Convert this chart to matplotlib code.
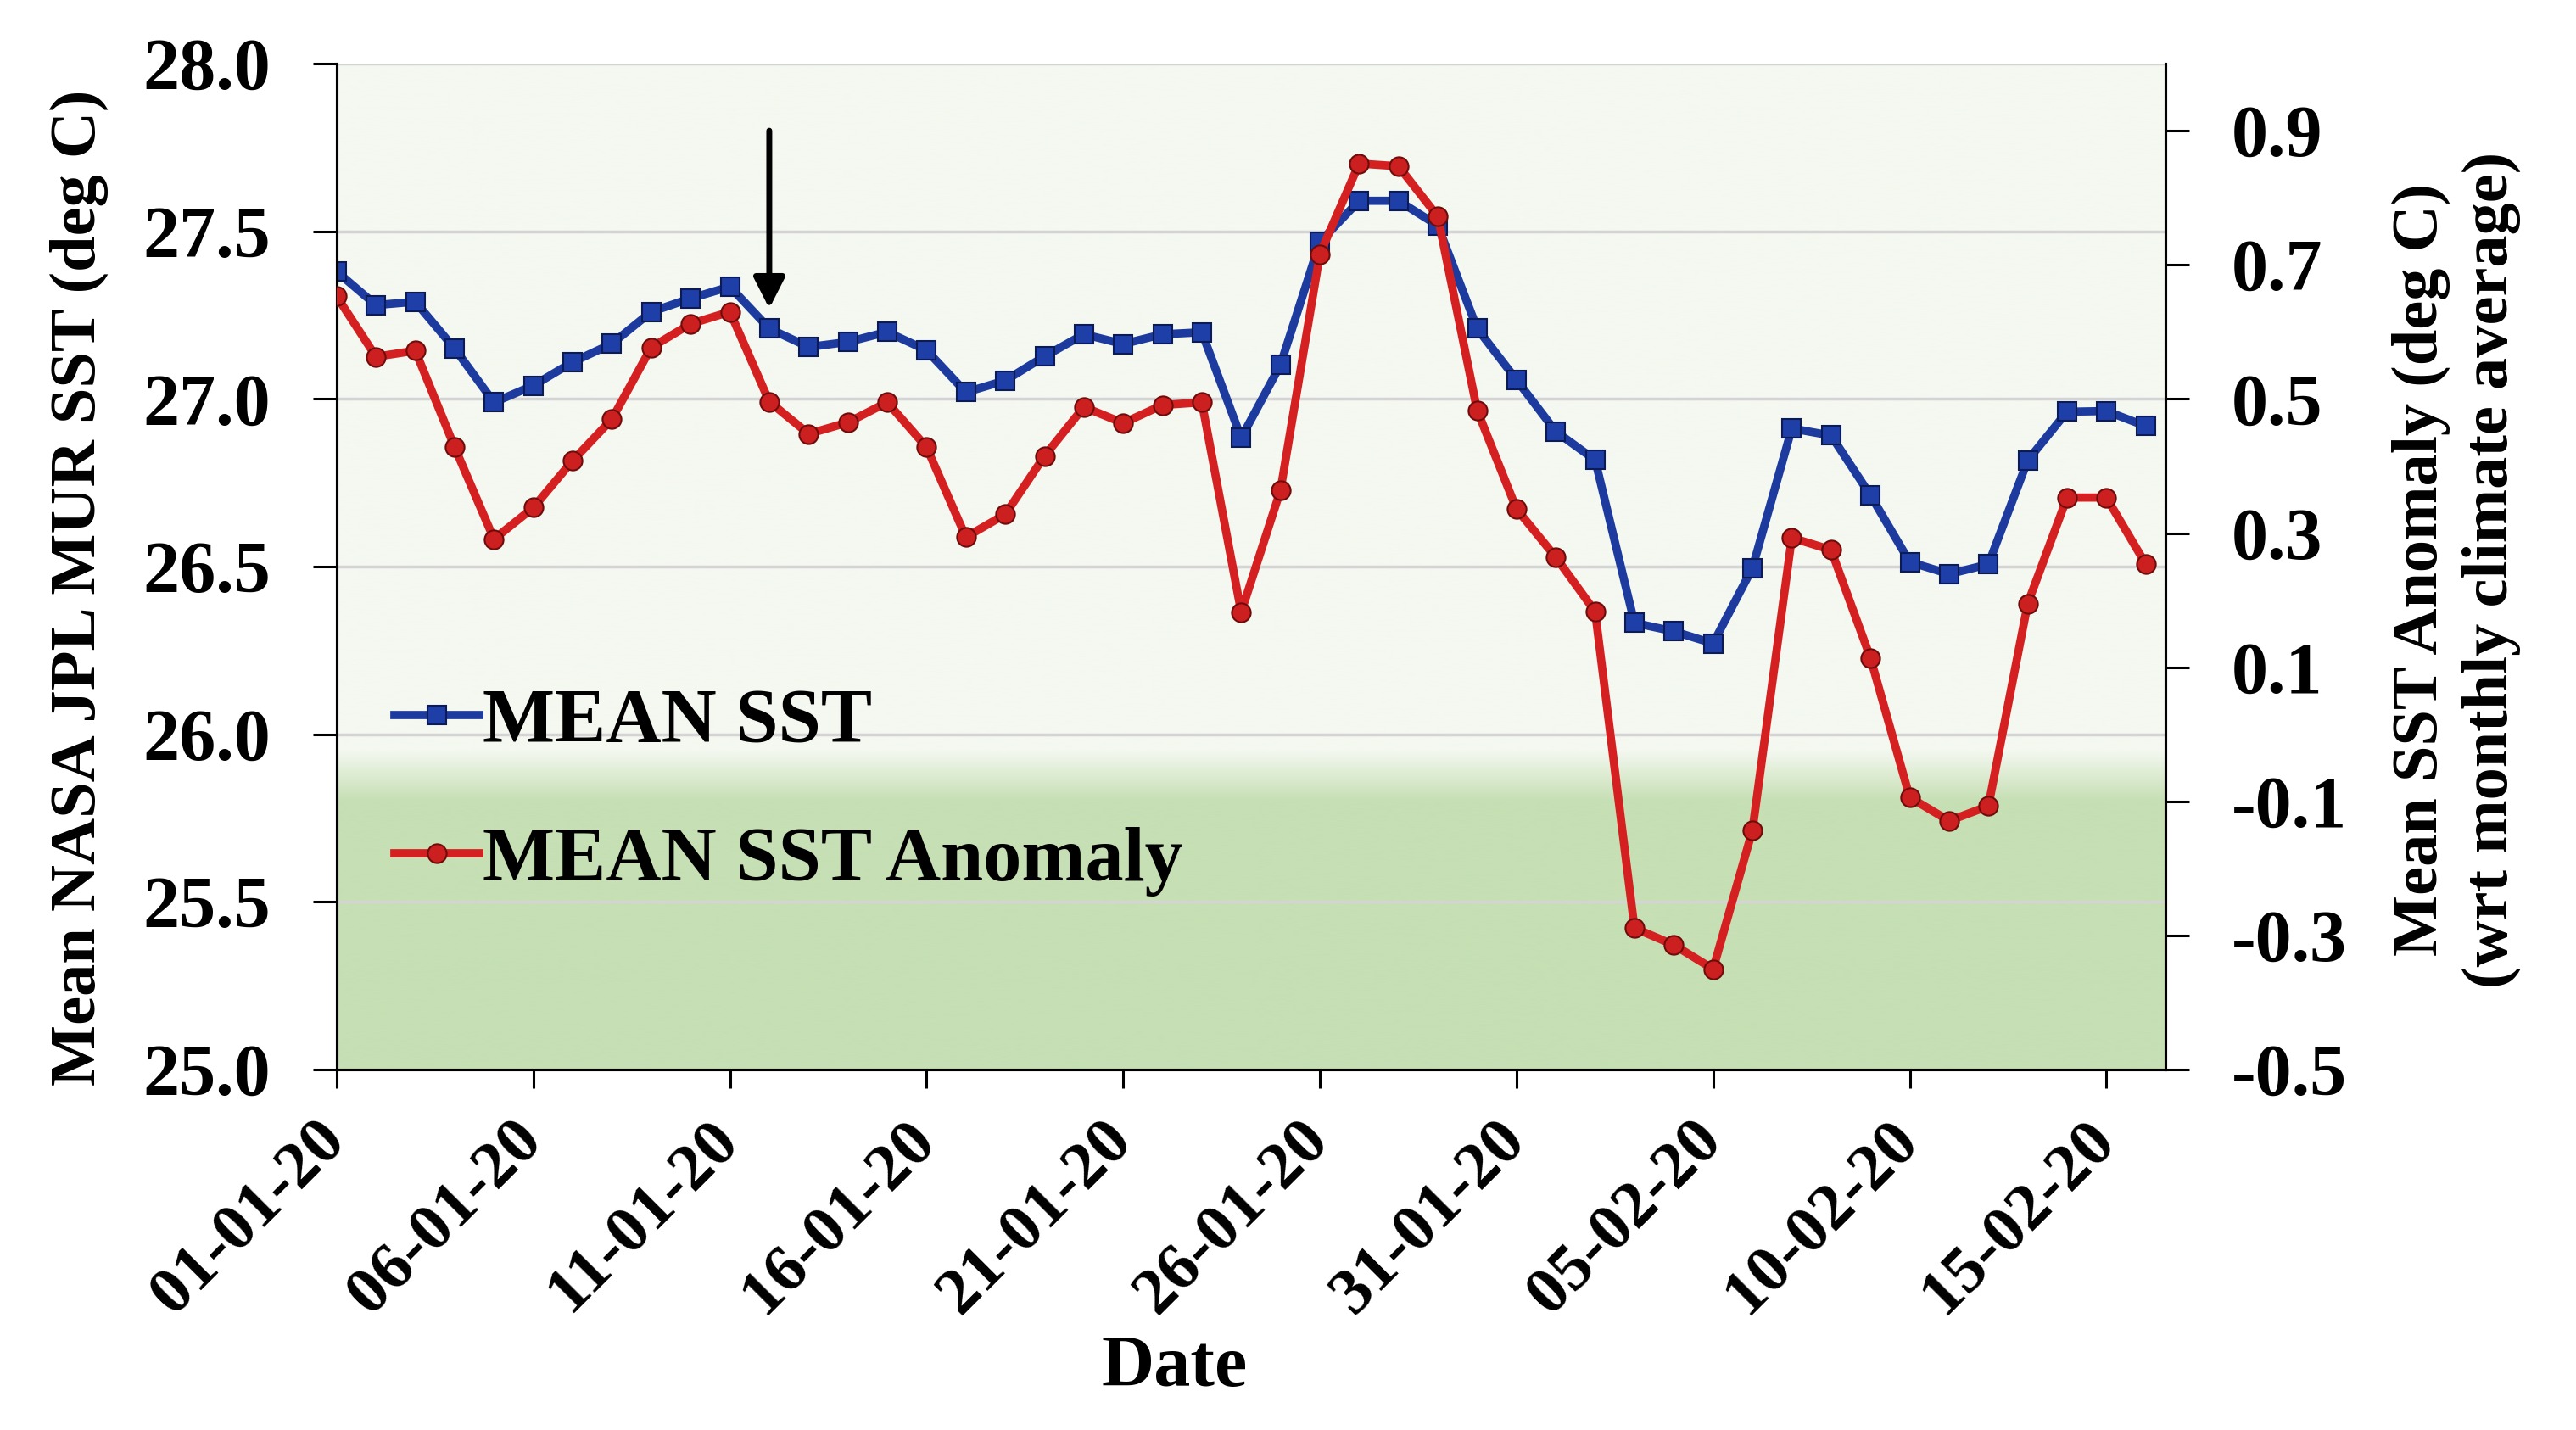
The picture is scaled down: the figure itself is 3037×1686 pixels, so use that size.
import numpy as np
import pandas as pd
import matplotlib
matplotlib.use("Agg")
import matplotlib.pyplot as plt
import matplotlib.dates as mdates
from matplotlib.lines import Line2D

# ---------------- data ----------------
start_date = "2020-01-01"
end_date = "2020-02-16"

mean_sst = [27.38, 27.28, 27.29, 27.15, 26.99, 27.04, 27.11, 27.165, 27.26, 27.30,
            27.335, 27.21, 27.155, 27.17, 27.20, 27.145, 27.02, 27.055, 27.127, 27.193,
            27.164, 27.193, 27.199, 26.884, 27.102, 27.468, 27.591, 27.591, 27.517, 27.210,
            27.057, 26.903, 26.818, 26.332, 26.307, 26.271, 26.496, 26.912, 26.891, 26.713,
            26.514, 26.478, 26.507, 26.817, 26.962, 26.964, 26.919]

mean_sst_anomaly = [0.653, 0.563, 0.572, 0.428, 0.291, 0.338, 0.408, 0.470, 0.577, 0.612,
                    0.630, 0.496, 0.448, 0.465, 0.495, 0.428, 0.294, 0.328, 0.415, 0.488,
                    0.464, 0.491, 0.495, 0.182, 0.364, 0.716, 0.851, 0.847, 0.772, 0.483,
                    0.336, 0.264, 0.183, -0.289, -0.314, -0.350, -0.143, 0.293, 0.275, 0.114,
                    -0.094, -0.129, -0.107, 0.195, 0.353, 0.353, 0.254]

left_ticks = [25.0, 25.5, 26.0, 26.5, 27.0, 27.5, 28.0]
right_ticks = [-0.5, -0.3, -0.1, 0.1, 0.3, 0.5, 0.7, 0.9]
arrow_date = "2020-01-12"
arrow_top, arrow_tip = 27.80, 27.27

series_labels = ["MEAN SST", "MEAN SST Anomaly"]
left_label = "Mean NASA JPL MUR SST (deg C)"
right_label = "Mean SST Anomaly (deg C)\n(wrt monthly climate average)"
x_label = "Date"

dates = pd.date_range(start_date, end_date, freq="D")
tick_dates = pd.date_range(start_date, end_date, freq="5D")

# ---------------- style ----------------
FONT = "Liberation Serif"
plt.rcParams["font.family"] = [FONT, "DejaVu Serif"]
plt.rcParams["font.weight"] = "bold"

fig = plt.figure(figsize=(30.37, 16.86), dpi=100)
ax = fig.add_axes([0.1307, 0.252, 0.7099, 0.7035])
ax2 = ax.twinx()

x0 = dates[0]
x1 = dates[-1] + pd.Timedelta(hours=12)
ax.set_xlim(x0, x1)
ax.set_ylim(25.0, 28.0)
ax2.set_ylim(-0.5, 1.0)

# background gradient
top_col = np.array([244, 248, 240]) / 255.0
bot_col = np.array([198, 223, 180]) / 255.0
yy = np.linspace(28.0, 25.0, 600)
t = np.clip((25.95 - yy) / (25.95 - 25.80), 0, 1)
img = (top_col[None, :] * (1 - t[:, None]) + bot_col[None, :] * t[:, None])[:, None, :]
ax.imshow(img, extent=[mdates.date2num(x0), mdates.date2num(x1), 25.0, 28.0],
          aspect="auto", zorder=0, interpolation="bilinear")

# grid
for v in left_ticks[1:]:
    ax.axhline(v, color="#d4d4d4", lw=2.5, zorder=1)

blue_line = "#1d3b9e"
red_line = "#d42020"
blue_kw = dict(color=blue_line, lw=7, marker="s", markersize=16,
               markerfacecolor="#1f3fa8", markeredgecolor="#0c1a55", markeredgewidth=1.5)
red_kw = dict(color=red_line, lw=7, marker="o", markersize=16,
              markerfacecolor="#cc1f1f", markeredgecolor="#6e0c0c", markeredgewidth=1.5)
ax.plot(dates, mean_sst, zorder=3, **blue_kw)
ax2.plot(dates, mean_sst_anomaly, zorder=3, **red_kw)

# arrow
ax.annotate("", xy=(pd.Timestamp(arrow_date), arrow_tip),
            xytext=(pd.Timestamp(arrow_date), arrow_top),
            arrowprops=dict(arrowstyle="-|>,head_length=0.55,head_width=0.28",
                            mutation_scale=40, lw=5, color="black",
                            shrinkA=0, shrinkB=0), zorder=4)

# axes formatting
ax.set_xticks(tick_dates)
ax.set_xticklabels([d.strftime("%d-%m-%y") for d in tick_dates], rotation=45,
                   ha="right", va="center", rotation_mode="anchor",
                   fontsize=57, fontweight="bold")
ax.set_yticks(left_ticks)
ax.set_yticklabels([f"{v:.1f}" for v in left_ticks], fontsize=62, fontweight="bold")
ax2.set_yticks(right_ticks)
ax2.set_yticklabels([f"{v:.1f}" for v in right_ticks], fontsize=62, fontweight="bold")

ax.tick_params(axis="y", direction="out", length=20, width=2.2, pad=36)
ax.tick_params(axis="x", direction="out", length=16, width=2.2, pad=36)
ax2.tick_params(axis="y", direction="out", length=20, width=2.2, pad=36)

for a in (ax, ax2):
    a.spines["top"].set_visible(False)
    for s in ("left", "bottom", "right"):
        a.spines[s].set_linewidth(2.2)
        a.spines[s].set_color("black")

ax.set_xlabel(x_label, fontsize=62, fontweight="bold")
ax.xaxis.label.set_va("center")
ax.xaxis.set_label_coords(0.458, -0.297)

ax.set_ylabel(left_label, fontsize=55, fontweight="bold")
ax.yaxis.label.set_va("center")
ax.yaxis.set_label_coords(-0.141, 0.479)

ax2.set_ylabel(right_label, fontsize=55, fontweight="bold", rotation=90,
               multialignment="center", linespacing=1.25)
ax2.yaxis.label.set_va("center")
ax2.yaxis.set_label_coords(1.159, 0.497)

handles = [Line2D([], [], **blue_kw), Line2D([], [], **red_kw)]
leg = ax2.legend(handles, series_labels, loc="center left",
                 bbox_to_anchor=(-0.006, 0.276), frameon=False,
                 prop={"family": FONT, "weight": "bold", "size": 65},
                 handlelength=1.1, handletextpad=0.05, labelspacing=0.9, numpoints=1)

fig.savefig("out.png", dpi=100)
